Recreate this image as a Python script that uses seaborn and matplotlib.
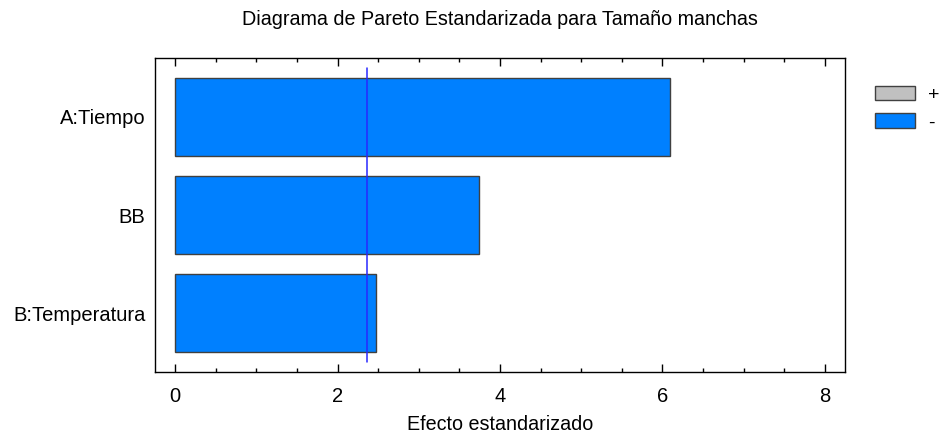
import matplotlib
matplotlib.use("Agg")
import matplotlib.pyplot as plt
from matplotlib.patches import Patch
from matplotlib.ticker import MultipleLocator
import seaborn as sns
import pandas as pd

factors = ["A:Tiempo", "BB", "B:Temperatura"]
effects = [6.09, 3.74, 2.47]
signs = ["-", "-", "-"]
critical_t = 2.365
sign_colors = {"+": "#C0C0C0", "-": "#0080FF"}

sns.set_theme(style="white")
plt.rcParams["font.family"] = ["Liberation Sans", "DejaVu Sans"]
plt.rcParams.update({"text.color": "black", "axes.labelcolor": "black",
                     "xtick.color": "black", "ytick.color": "black"})

df = pd.DataFrame({"factor": factors, "effect": effects, "sign": signs})

fig = plt.figure(figsize=(9.41, 4.33), dpi=100)
ax = fig.add_axes([0.1647, 0.1409, 0.7333, 0.7251])

sns.barplot(data=df, x="effect", y="factor", hue="sign", palette=sign_colors,
            orient="h", width=0.8, edgecolor="#404040", linewidth=1.0,
            saturation=1, dodge=False, legend=False, ax=ax)

ax.plot([critical_t, critical_t], [-0.5, 2.5], color="#2828FF", linewidth=1.1)

ax.set_xlim(-0.25, 8.25)
ax.set_ylim(2.6, -0.6)
ax.xaxis.set_major_locator(MultipleLocator(2))
ax.xaxis.set_minor_locator(MultipleLocator(0.5))
ax.tick_params(axis="x", which="major", direction="in", length=6, width=1,
               top=True, bottom=True, labelsize=14.5, pad=11, color="black")
ax.tick_params(axis="x", which="minor", direction="in", length=3, width=1,
               top=True, bottom=True, color="black")
ax.tick_params(axis="y", length=0, labelsize=14.5, pad=7)
for s in ax.spines.values():
    s.set_color("black")
    s.set_linewidth(1.0)

ax.set_xlabel("Efecto estandarizado", fontsize=14.2, labelpad=6)
ax.set_ylabel("")
ax.set_title("Diagrama de Pareto Estandarizada para Tamaño manchas",
             fontsize=14.2, pad=24)

handles = [Patch(facecolor=sign_colors["+"], edgecolor="#404040", label="+"),
           Patch(facecolor=sign_colors["-"], edgecolor="#404040", label="-")]
fig.legend(handles=handles, loc="upper left", bbox_to_anchor=(0.930, 0.802),
           frameon=False, fontsize=14, handlelength=2.06, handleheight=0.77,
           handletextpad=0.67, labelspacing=0.5, borderpad=0, borderaxespad=0)

fig.savefig("out.png", dpi=100)
